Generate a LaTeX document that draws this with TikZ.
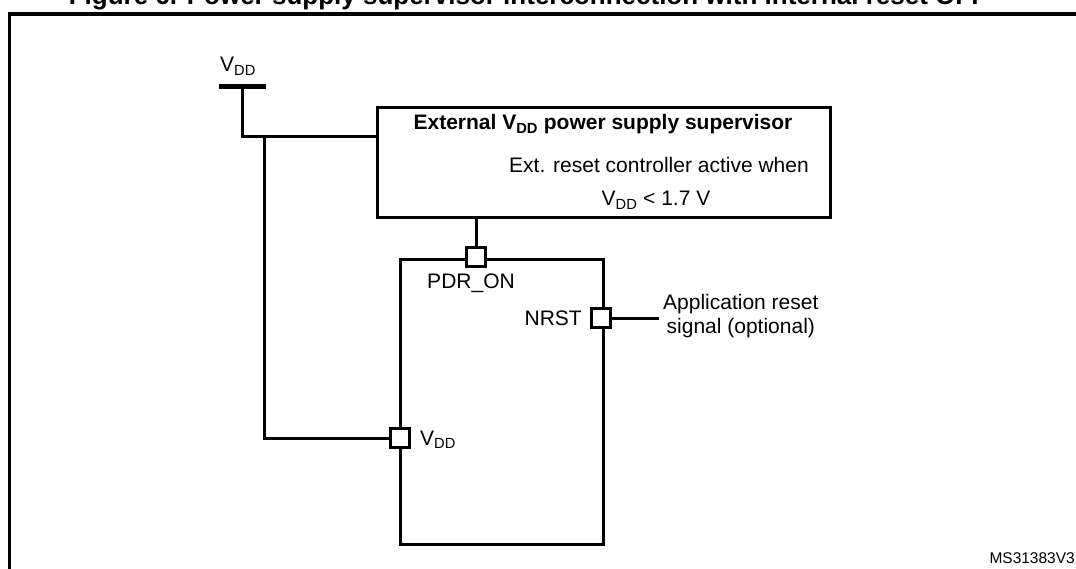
\documentclass[tikz,border=0pt]{standalone}
\usepackage{fontspec}
\setmainfont{Liberation Sans}
\usetikzlibrary{positioning}
\newcommand{\mainsize}{\fontsize{21}{23.5}\selectfont}
\newcommand{\vdd}{V\textsubscript{DD}}

\begin{document}
\begin{tikzpicture}[
    x=1pt, y=-1pt,
    font=\mainsize,
    wire/.style={line width=3pt},
    blk/.style={draw, line width=3pt, inner sep=0pt, anchor=north west},
    pin/.style={draw, line width=3pt, fill=white, minimum size=19pt, inner sep=0pt},
    lbl/.style={anchor=base, inner sep=0pt, font=\mainsize}
  ]
    \useasboundingbox (0,0) rectangle (1076,569);
    \clip (0,0) rectangle (1076,569);

    \node[lbl, font=\fontsize{26}{30}\selectfont\bfseries] (title) at (528,5)
      {Figure 6. Power supply supervisor interconnection with internal reset OFF};
    \draw[line width=3.2pt] (9.5,600) -- (9.5,14) -- (1100,14);

    \node[lbl] (vddtop) at (238,72) {\vdd};
    \coordinate (rail) at (242,86.5);
    \draw[line width=5pt] ([xshift=-23pt]rail) -- ([xshift=24pt]rail);

    \node[blk, minimum width=453pt, minimum height=110pt] (sup) at (376,106) {};
    \node[lbl, font=\mainsize\bfseries] (suptitle) at (603,130) {External \vdd{} power supply supervisor};
    \node[lbl] (supline1) at (659,173) {Ext. reset controller active when};
    \node[lbl] (supline2) at (656,206) {\vdd{} < 1.7 V};

    \node[blk, minimum width=203pt, minimum height=285pt] (mcu) at (399,258) {};
    \node[pin] (pdrpin) at (476,257) {};
    \node[pin] (nrstpin) at (601,318) {};
    \node[pin] (vddpin) at (399.5,438) {};
    \node[lbl] (pdrlbl) at (471,289) {PDR\_ON};
    \node[lbl, anchor=base east] (nrstlbl) at (582,326) {NRST};
    \node[lbl, anchor=base west] (vddlbl) at (420,445) {\vdd};

    \coordinate (jn) at (264,137);
    \coordinate (append) at (659,318);
    \node[anchor=west, align=center, inner sep=0pt, font=\mainsize] (applbl)
      at ([xshift=4pt, yshift=2pt]append) {Application reset\\signal (optional)};

    \draw[wire] (rail) |- (sup.west |- jn);
    \draw[wire] (jn) |- (vddpin.west);
    \draw[wire] (sup.south -| pdrpin) -- (pdrpin.north);
    \draw[wire] (nrstpin.east) -- (append);

    \node[lbl, font=\fontsize{15.5}{18}\selectfont, anchor=base east] (docid) at (1075,563) {MS31383V3};
  \end{tikzpicture}
\end{document}
